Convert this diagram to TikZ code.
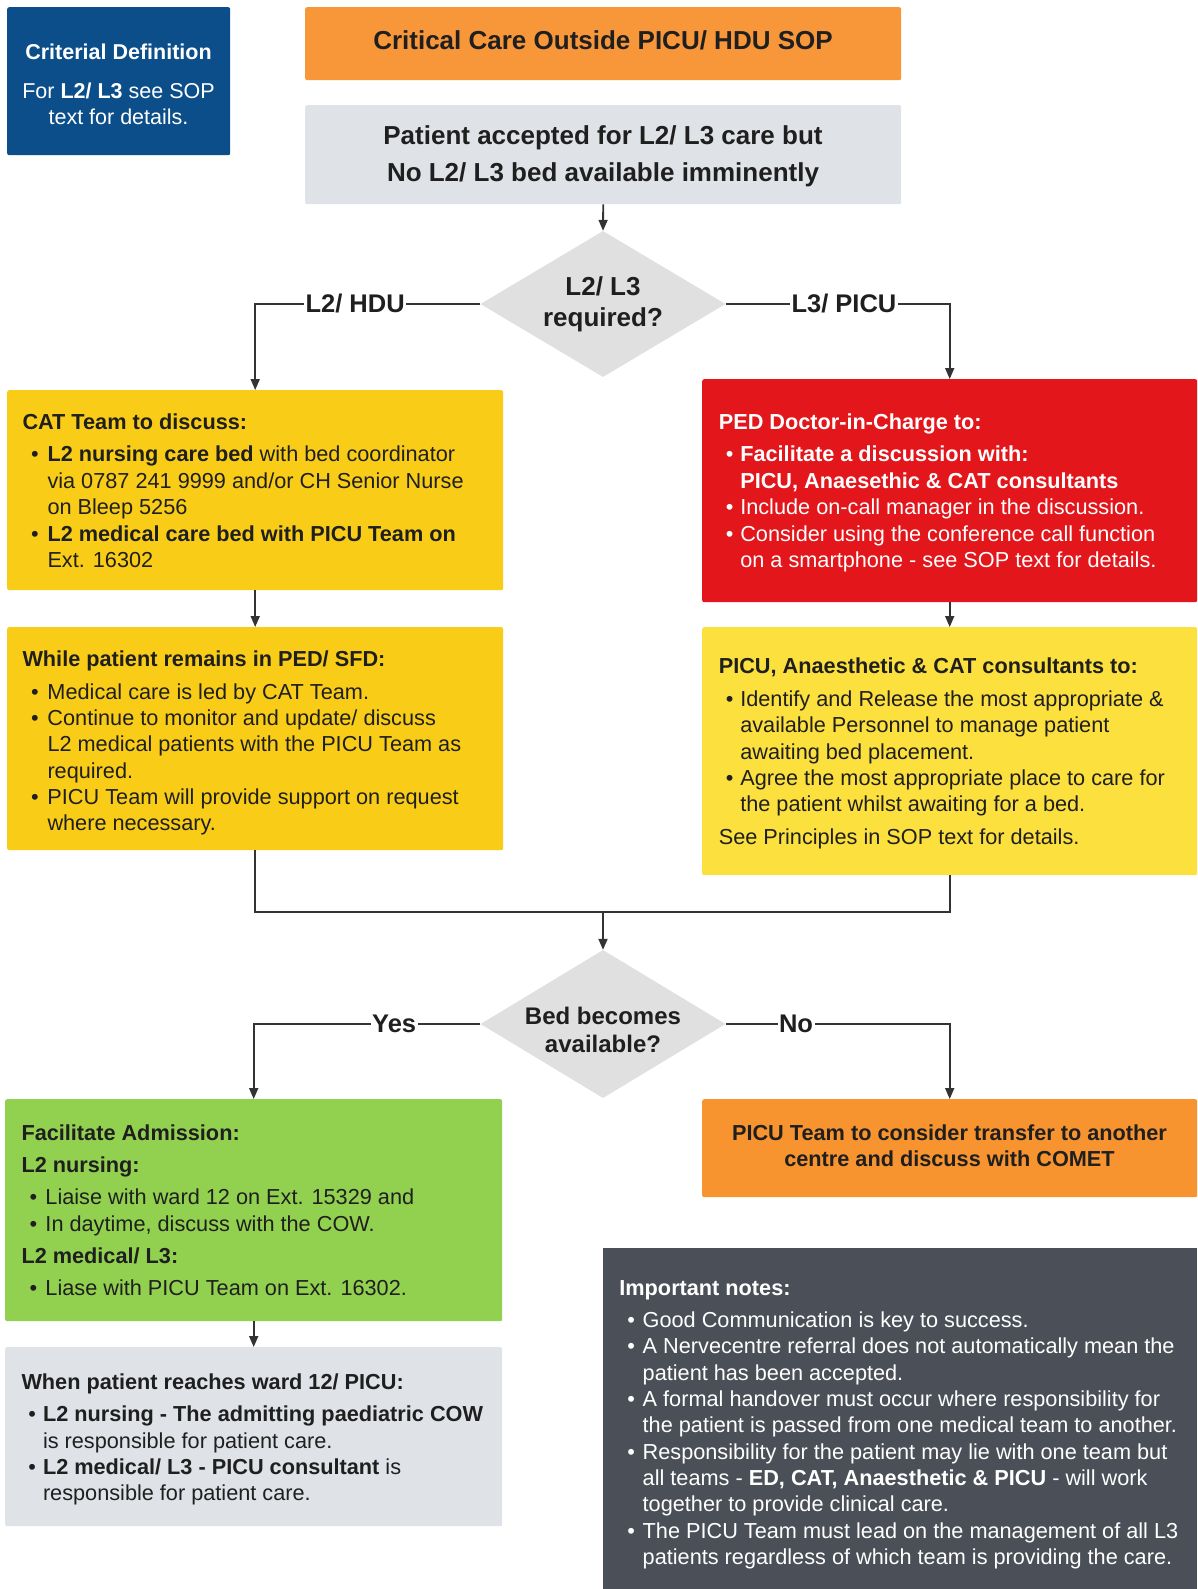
\documentclass[tikz,border=0pt]{standalone}
\usepackage{fontspec}
\setmainfont{Liberation Sans}
\usetikzlibrary{shapes.geometric,arrows.meta}
\definecolor{cblue}{HTML}{0C4E89}
\definecolor{corange}{HTML}{F8963A}
\definecolor{corangeb}{HTML}{F7942F}
\definecolor{cgray}{HTML}{DFE2E6}
\definecolor{cdia}{HTML}{E0E0E0}
\definecolor{cyellow}{HTML}{F9CD17}
\definecolor{cyellowb}{HTML}{FCE03E}
\definecolor{cred}{HTML}{E2161B}
\definecolor{cgreen}{HTML}{92D050}
\definecolor{cnotes}{HTML}{4B5058}
\definecolor{lcol}{HTML}{333333}
\definecolor{ink}{HTML}{1F1F1F}
\newlength\bind
\newcommand\myb{\makebox[\bind][c]{•}}
\newcommand\myi{\hspace*{\bind}}
\begin{document}
\begin{tikzpicture}[x=1pt,y=-1pt,
  box/.style={draw=none, rounded corners=2pt, inner sep=0pt, anchor=north west},
  txt/.style={anchor=north west, inner sep=0pt, align=left, font=\fontsize{21.7}{26.35}\selectfont, text=ink},
  ctxt/.style={anchor=north, inner sep=0pt, align=center, font=\fontsize{21.7}{26.35}\selectfont\bfseries, text=ink},
  bi/.style={execute at begin node={\global\bind=#1\relax}},
  ln/.style={draw=lcol, line width=1.8pt},
  arr/.style={ln, -{Triangle[length=11pt,width=9pt]}},
  lbl/.style={fill=white, inner xsep=1.5pt, inner ysep=1pt, font=\fontsize{25.5}{30}\selectfont\bfseries, text=ink},
  dia/.style={diamond, fill=cdia, inner sep=0pt, minimum width=245pt}
]
\useasboundingbox (0,0) rectangle (1197,1589);
\fill[white] (0,0) rectangle (1197,1589);

% boxes
\node[box, fill=cblue, minimum width=223pt, minimum height=148pt] (crit) at (7,7) {};
\node[box, fill=corange, minimum width=596pt, minimum height=73pt] (title) at (305,7) {};
\node[box, fill=cgray, minimum width=596pt, minimum height=99pt] (pat) at (305,105) {};
\node[dia, minimum height=146pt] (d1) at (603,304) {};
\node[box, fill=cyellow, minimum width=496pt, minimum height=200pt] (cat) at (7,390) {};
\node[box, fill=cyellow, minimum width=496pt, minimum height=223pt] (while) at (7,627) {};
\node[box, fill=cred, minimum width=495pt, minimum height=223pt] (red) at (702,379) {};
\node[box, fill=cyellowb, minimum width=495pt, minimum height=248pt] (yel2) at (702,627) {};
\node[dia, minimum height=148pt] (d2) at (603,1024) {};
\node[box, fill=cgreen, minimum width=497pt, minimum height=222pt] (green) at (5,1099) {};
\node[box, fill=cgray, minimum width=497pt, minimum height=179pt] (gray) at (5,1347) {};
\node[box, fill=corangeb, minimum width=495pt, minimum height=98pt] (ora2) at (702,1099) {};
\node[box, fill=cnotes, minimum width=594pt, minimum height=341pt, rounded corners=0pt] (notes) at (603,1248) {};

% texts
\node[anchor=north, inner sep=0pt, align=center, text=white, font=\fontsize{21.5}{26.4}\selectfont] (crittxt) at (118.5,41) {\strut\textbf{Criterial Definition}\\[12pt] For \textbf{L2/ L3} see SOP\\ text for details.};
\node[anchor=base, inner sep=0pt, text=ink, font=\fontsize{26}{31}\selectfont\bfseries] (titletxt) at (603,49.9) {Critical Care Outside PICU/ HDU SOP};
\node[anchor=north, inner sep=0pt, align=center, text=ink, font=\fontsize{26}{37.5}\selectfont\bfseries] (pattxt) at (603,117.9) {\strut Patient accepted for L2/ L3 care but\\ No L2/ L3 bed available imminently};
\node[anchor=north, inner sep=0pt, align=center, text=ink, font=\fontsize{26}{31.4}\selectfont\bfseries] (d1txt) at (603,273.2) {\strut L2/ L3\\ required?};
\node[anchor=north, inner sep=0pt, align=center, text=ink, font=\fontsize{24}{28.4}\selectfont\bfseries] (d2txt) at (603,1004.2) {\strut Bed becomes\\ available?};

\node[txt, bi=25pt] (cattxt) at (22.3,411) {\strut\textbf{CAT Team to discuss:}\\[6pt]
\myb\textbf{L2 nursing care bed} with bed coordinator\\
\myi via 0787 241 9999 and/or CH Senior Nurse\\
\myi on Bleep 5256\\
\myb\textbf{L2 medical care bed with PICU Team on}\\
\myi Ext. 16302};

\node[txt, bi=25pt] (whiletxt) at (22.3,648.2) {\strut\textbf{While patient remains in PED/ SFD:}\\[6pt]
\myb Medical care is led by CAT Team.\\
\myb Continue to monitor and update/ discuss\\
\myi L2 medical patients with the PICU Team as\\
\myi required.\\
\myb PICU Team will provide support on request\\
\myi where necessary.};

\node[txt, bi=21.5pt, text=white] (redtxt) at (718.6,411) {\strut\textbf{PED Doctor-in-Charge to:}\\[6pt]
\myb\textbf{Facilitate a discussion with:}\\
\myi\textbf{PICU, Anaesethic \& CAT consultants}\\
\myb Include on-call manager in the discussion.\\
\myb Consider using the conference call function\\
\myi on a smartphone - see SOP text for details.};

\node[txt, bi=21.5pt] (yel2txt) at (718.6,655.3) {\strut\textbf{PICU, Anaesthetic \& CAT consultants to:}\\[6pt]
\myb Identify and Release the most appropriate \&\\
\myi available Personnel to manage patient\\
\myi awaiting bed placement.\\
\myb Agree the most appropriate place to care for\\
\myi the patient whilst awaiting for a bed.\\[6pt]
See Principles in SOP text for details.};

\node[txt, bi=24pt] (greentxt) at (21.3,1121.5) {\strut\textbf{Facilitate Admission:}\\[6pt]
\textbf{L2 nursing:}\\[6pt]
\myb Liaise with ward 12 on Ext. 15329 and\\
\myb In daytime, discuss with the COW.\\[6pt]
\textbf{L2 medical/ L3:}\\[6pt]
\myb Liase with PICU Team on Ext. 16302.};

\node[txt, bi=21.5pt] (graytxt) at (21.3,1370.8) {\strut\textbf{When patient reaches ward 12/ PICU:}\\[6pt]
\myb\textbf{L2 nursing - The admitting paediatric COW}\\
\myi is responsible for patient care.\\
\myb\textbf{L2 medical/ L3 - PICU consultant} is\\
\myi responsible for patient care.};

\node[ctxt] (ora2txt) at (949.5,1121.5) {\strut PICU Team to consider transfer to another\\ centre and discuss with COMET};

\node[txt, bi=23.3pt, text=white] (notestxt) at (619.2,1276.5) {\strut\textbf{Important notes:}\\[6pt]
\myb Good Communication is key to success.\\
\myb A Nervecentre referral does not automatically mean the\\
\myi patient has been accepted.\\
\myb A formal handover must occur where responsibility for\\
\myi the patient is passed from one medical team to another.\\
\myb Responsibility for the patient may lie with one team but\\
\myi all teams - \textbf{ED, CAT, Anaesthetic \& PICU} - will work\\
\myi together to provide clinical care.\\
\myb The PICU Team must lead on the management of all L3\\
\myi patients regardless of which team is providing the care.};

% connectors
\draw[arr] (pat.south) -- (d1.north);
\draw[arr] (d1.west) -| node[lbl, pos=0.278] (lblhdu) {L2/ HDU} (cat.north);
\draw[arr] (d1.east) -| node[lbl, pos=0.264] (lblpicu) {L3/ PICU} (red.north);
\draw[arr] (cat.south) -- (while.north);
\draw[arr] (red.south) -- (yel2.north);
\coordinate (mrg) at (603,912);
\draw[ln] (while.south) |- (mrg) -| (yel2.south);
\draw[arr] (mrg) -- (d2.north);
\draw[arr] (d2.west) -| node[lbl, pos=0.19] (lblyes) {Yes} (green.north);
\draw[arr] (d2.east) -| node[lbl, pos=0.157] (lblno) {No} (ora2.north);
\draw[arr] (green.south) -- (gray.north);
\end{tikzpicture}
\end{document}
